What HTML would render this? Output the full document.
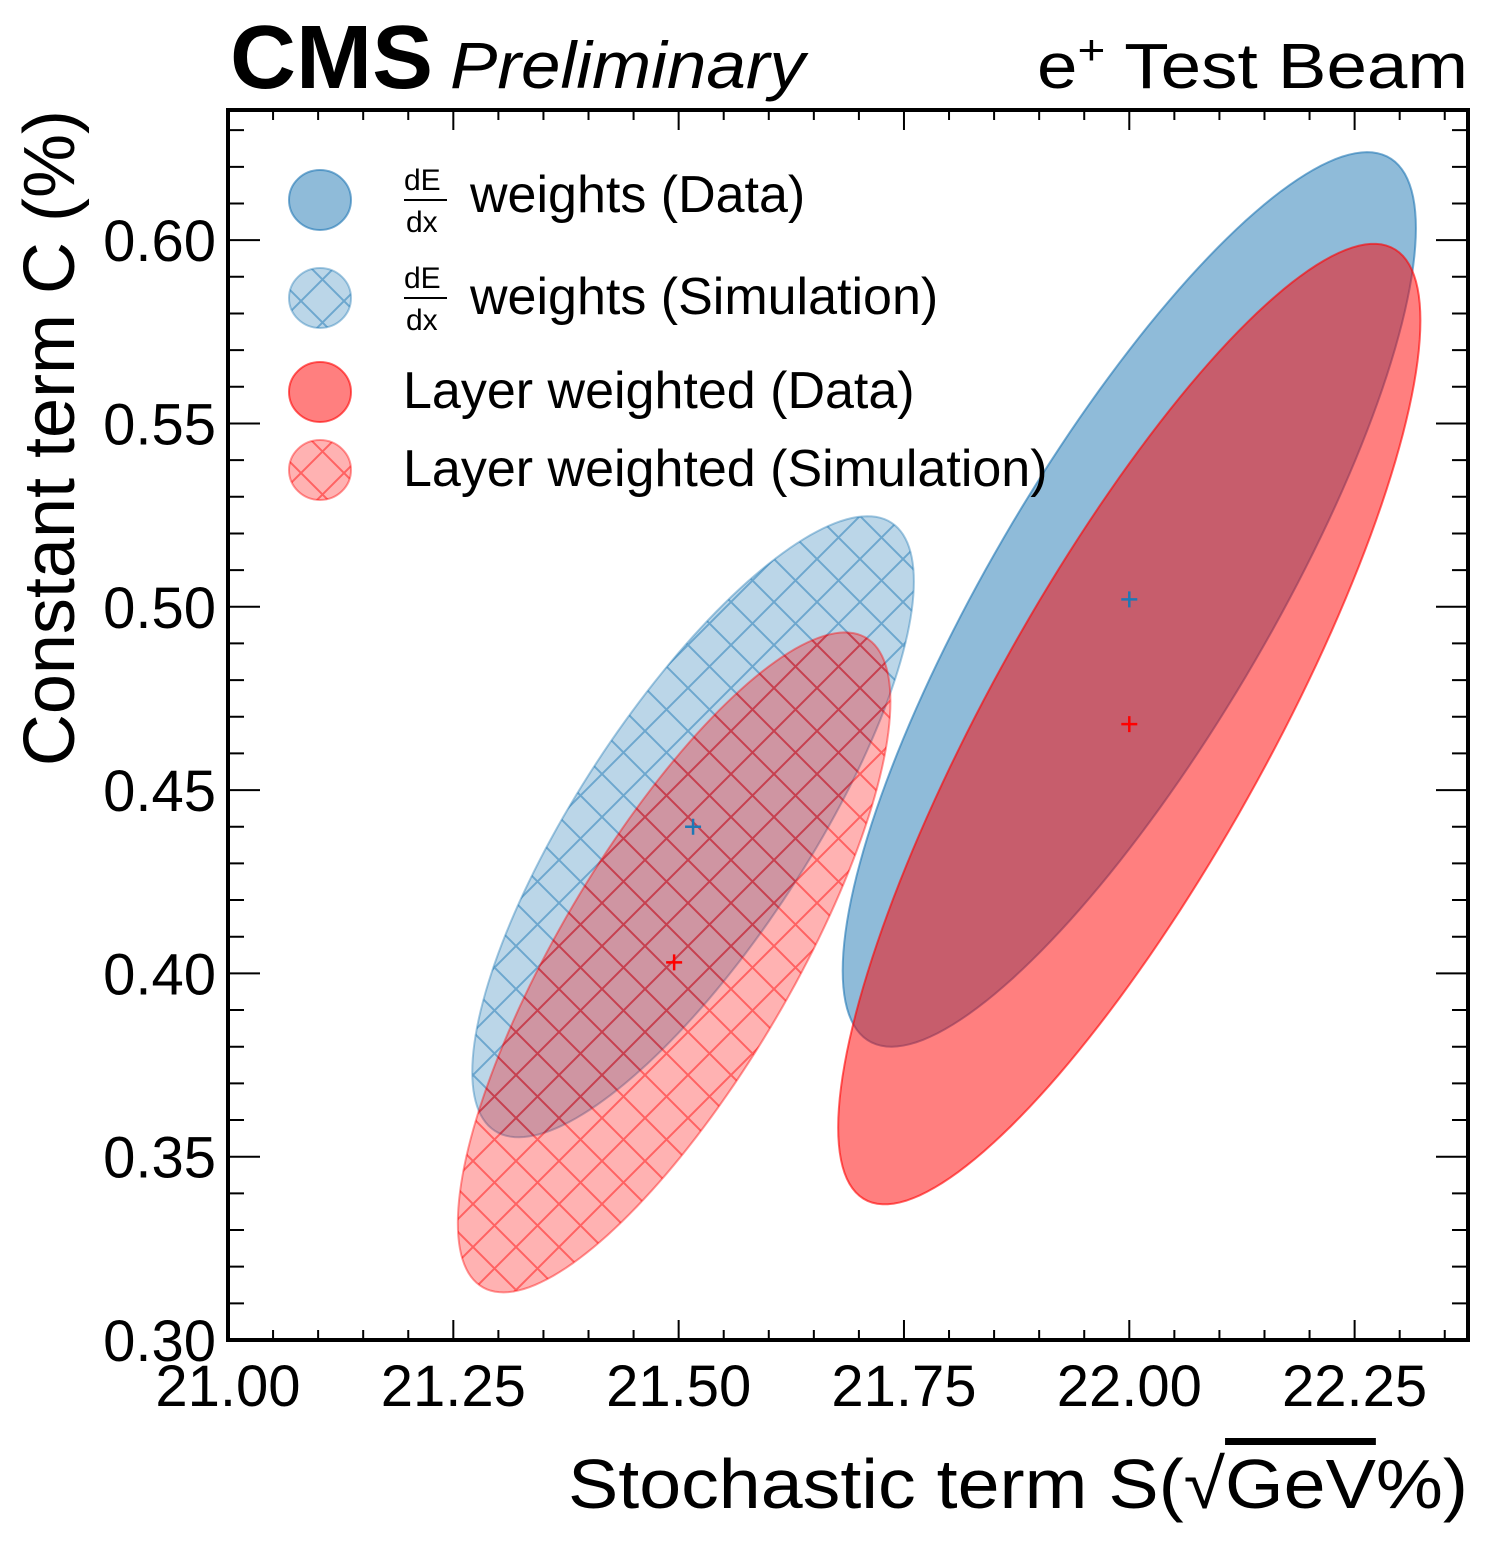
<!DOCTYPE html>
<html><head><meta charset="utf-8"><style>
body{margin:0;background:#fff;}
svg text{font-family:"Liberation Sans",sans-serif;}
</style></head><body>
<svg id="chart" width="1488" height="1548" xmlns="http://www.w3.org/2000/svg">
<defs>
<pattern id="hatchBlue" patternUnits="userSpaceOnUse" width="43" height="43">
<path d="M0,0L43,43M43,0L0,43M-5,38L5,48M38,-5L48,5M-5,5L5,-5M38,48L48,38" stroke="#1f77b4" stroke-opacity="0.5" stroke-width="2"/>
</pattern>
<pattern id="hatchRed" patternUnits="userSpaceOnUse" width="43" height="43">
<path d="M0,0L43,43M43,0L0,43M-5,38L5,48M38,-5L48,5M-5,5L5,-5M38,48L48,38" stroke="#ff0000" stroke-opacity="0.45" stroke-width="2"/>
</pattern>
</defs>
<g id="marks"></g>
<g id="axes"></g>
<text x="230" y="88" font-size="90" font-weight="bold" textLength="203" lengthAdjust="spacingAndGlyphs">CMS</text>
<text x="450" y="88" font-size="66" font-style="italic" textLength="355" lengthAdjust="spacingAndGlyphs">Preliminary</text>
<text x="1037" y="88" font-size="64" textLength="431" lengthAdjust="spacingAndGlyphs">e<tspan font-size="42" dy="-24">+</tspan><tspan dy="24"> Test Beam</tspan></text>
<text x="568" y="1508" font-size="70" textLength="900" lengthAdjust="spacingAndGlyphs">Stochastic term S(√<tspan text-decoration="overline">GeV</tspan>%)</text>
<text transform="translate(74,110) rotate(-90)" font-size="72" text-anchor="end">Constant term C (%)</text>
<g>
<g>
<ellipse cx="320" cy="200" rx="31" ry="30" fill="#1f77b4" fill-opacity="0.5" stroke="#1f77b4" stroke-opacity="0.6" stroke-width="2"/>
<text x="404" y="190" font-size="30">dE</text><line x1="404" y1="200" x2="447" y2="200" stroke="#000" stroke-width="2"/><text x="406" y="232" font-size="30">dx</text>
<text x="470" y="212" font-size="52">weights (Data)</text></g>
<g>
<ellipse cx="320" cy="298" rx="31" ry="30" fill="#1f77b4" fill-opacity="0.3" stroke="#1f77b4" stroke-opacity="0.4" stroke-width="2"/>
<ellipse cx="320" cy="298" rx="31" ry="30" fill="url(#hatchBlue)"/>
<text x="404" y="288" font-size="30">dE</text><line x1="404" y1="298" x2="447" y2="298" stroke="#000" stroke-width="2"/><text x="406" y="330" font-size="30">dx</text>
<text x="470" y="314" font-size="52">weights (Simulation)</text></g>
<g>
<ellipse cx="320" cy="392" rx="31" ry="30" fill="#ff0000" fill-opacity="0.5" stroke="#ff0000" stroke-opacity="0.6" stroke-width="2"/>
<text x="403" y="408" font-size="52">Layer weighted (Data)</text></g>
<g>
<ellipse cx="320" cy="470" rx="31" ry="30" fill="#ff0000" fill-opacity="0.3" stroke="#ff0000" stroke-opacity="0.4" stroke-width="2"/>
<ellipse cx="320" cy="470" rx="31" ry="30" fill="url(#hatchRed)"/>
<text x="403" y="486" font-size="52">Layer weighted (Simulation)</text></g>
</g>
</svg>
<script>
const seriesNames = ["dedx-data","layer-data","dedx-sim","layer-sim"];
const centerS = [22.00, 22.00, 21.516, 21.495];
const centerC = [0.502, 0.468, 0.440, 0.403];
const halfS = [0.318, 0.323, 0.245, 0.240];
const halfC = [0.122, 0.131, 0.0847, 0.090];
const rhoVals = [0.83, 0.84, 0.79, 0.79];
const xTicks = [21.00, 21.25, 21.50, 21.75, 22.00, 22.25];
const xTickLabels = ["21.00","21.25","21.50","21.75","22.00","22.25"];
const yTicks = [0.30, 0.35, 0.40, 0.45, 0.50, 0.55, 0.60];
const yTickLabels = ["0.30","0.35","0.40","0.45","0.50","0.55","0.60"];

const L=228,R=1468,T=110,B=1340;
const xMin=21.0,xMax=22.3758,yMin=0.30,yMax=0.6355;
const X=v=>L+(v-xMin)/(xMax-xMin)*(R-L);
const Y=v=>B-(v-yMin)/(yMax-yMin)*(B-T);
const NS="http://www.w3.org/2000/svg";
const marks=document.getElementById('marks');
const styles=[
 {fill:"#1f77b4",fo:0.5,stroke:"#1f77b4",so:0.6,hatch:null,mark:"#1f77b4"},
 {fill:"#ff0000",fo:0.5,stroke:"#ff0000",so:0.6,hatch:null,mark:"#ff0000"},
 {fill:"#1f77b4",fo:0.3,stroke:"#1f77b4",so:0.4,hatch:"url(#hatchBlue)",mark:"#1f77b4"},
 {fill:"#ff0000",fo:0.3,stroke:"#ff0000",so:0.4,hatch:"url(#hatchRed)",mark:"#ff0000"}];
const order=[0,1,2,3];
order.forEach(i=>{
  let d="";
  const r=rhoVals[i], q=Math.sqrt(1-r*r);
  for(let k=0;k<=180;k++){
    const t=k/180*2*Math.PI;
    const sx=centerS[i]+halfS[i]*Math.cos(t);
    const cy=centerC[i]+halfC[i]*(r*Math.cos(t)+q*Math.sin(t));
    d+=(k?"L":"M")+X(sx).toFixed(2)+","+Y(cy).toFixed(2);
  }
  d+="Z";
  const st=styles[i];
  const p=document.createElementNS(NS,'path');
  
  
  p.setAttribute('d',d);p.setAttribute('fill',st.fill);p.setAttribute('fill-opacity',st.fo);
  p.setAttribute('stroke',st.stroke);p.setAttribute('stroke-opacity',st.so);p.setAttribute('stroke-width','2');
  marks.appendChild(p);
  if(st.hatch){
    const h=document.createElementNS(NS,'path');
    
    
    h.setAttribute('d',d);h.setAttribute('fill',st.hatch);
    marks.appendChild(h);
  }
});
order.forEach(i=>{
  const cx=X(centerS[i]),cy=Y(centerC[i]);
  const m=document.createElementNS(NS,'path');
  
  
  m.setAttribute('d',`M${cx-8},${cy}L${cx+8},${cy}M${cx},${cy-8}L${cx},${cy+8}`);
  m.setAttribute('stroke',styles[i].mark);m.setAttribute('stroke-width','2.5');
  marks.appendChild(m);
});
const axes=document.getElementById('axes');
let td="";
for(let v=21.0;v<=xMax+1e-9;v+=0.05){const x=X(v);const major=Math.abs(v*4-Math.round(v*4))<1e-6;const len=major?20:10;
  td+=`M${x},${B}L${x},${B-len}M${x},${T}L${x},${T+len}`;}
for(let v=0.30;v<=yMax+1e-9;v+=0.01){const y=Y(v);const major=Math.abs(v*20-Math.round(v*20))<1e-6;const len=major?32:16;
  td+=`M${L},${y}L${L+len},${y}M${R},${y}L${R-len},${y}`;}
const tp=document.createElementNS(NS,'path');


tp.setAttribute('d',td);tp.setAttribute('stroke','#000');tp.setAttribute('stroke-width','2');
axes.appendChild(tp);
const fr=document.createElementNS(NS,'rect');


fr.setAttribute('x',L);fr.setAttribute('y',T);fr.setAttribute('width',R-L);fr.setAttribute('height',B-T);
fr.setAttribute('fill','none');fr.setAttribute('stroke','#000');fr.setAttribute('stroke-width','4');
axes.appendChild(fr);
xTicks.forEach((v,i)=>{const t=document.createElementNS(NS,'text');
  
  
  t.setAttribute('x',X(v));t.setAttribute('y',1406);t.setAttribute('font-size','58');t.setAttribute('text-anchor','middle');
  t.textContent=xTickLabels[i];axes.appendChild(t);});
yTicks.forEach((v,i)=>{const t=document.createElementNS(NS,'text');
  
  
  t.setAttribute('x',216);t.setAttribute('y',Y(v)+21);t.setAttribute('font-size','58');t.setAttribute('text-anchor','end');
  t.textContent=yTickLabels[i];axes.appendChild(t);});
</script>
</body></html>
